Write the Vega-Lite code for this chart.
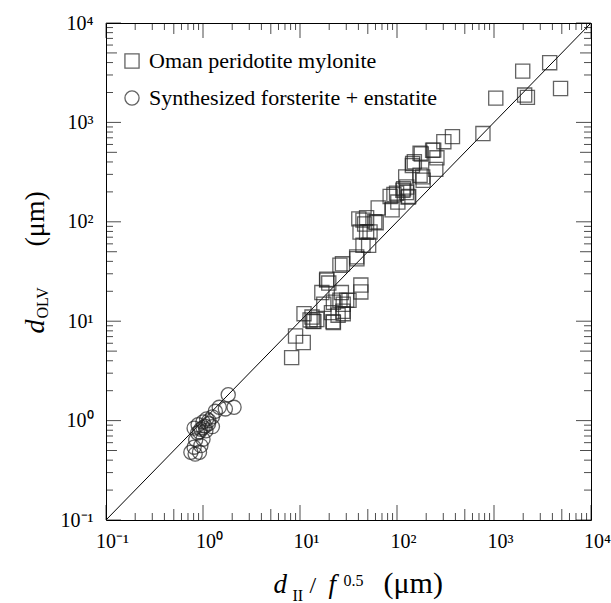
{
  "$schema": "https://vega.github.io/schema/vega-lite/v6.json",
  "width": 485,
  "height": 497,
  "autosize": {"type": "none"},
  "padding": {"left": 106, "top": 23, "right": 20, "bottom": 83},
  "background": "white",
  "config": {
    "view": {"stroke": "#000", "strokeWidth": 1},
    "font": "Liberation Serif",
    "axis": {
      "domain": false,
      "ticks": false,
      "tickSize": 0,
      "grid": false,
      "labelFont": "Liberation Serif",
      "labelFontSize": 20,
      "labelColor": "#000",
      "titleFont": "Liberation Serif",
      "titleColor": "#000",
      "titleFontWeight": "normal",
      "titleAlign": "left",
      "titleBaseline": "alphabetic",
      "titleAnchor": "start"
    }
  },
  "datasets": {
    "diag": [{"x": 0.1, "y": 0.1}, {"x": 10000, "y": 10000}],
    "tmaj": [{"v": 0.1}, {"v": 1}, {"v": 10}, {"v": 100}, {"v": 1000}, {"v": 10000}],
    "tfive": [{"v": 0.5}, {"v": 5}, {"v": 50}, {"v": 500}, {"v": 5000}],
    "tmin": [{"v": 0.2}, {"v": 0.3}, {"v": 0.4}, {"v": 0.6}, {"v": 0.7}, {"v": 0.8}, {"v": 0.9},
      {"v": 2}, {"v": 3}, {"v": 4}, {"v": 6}, {"v": 7}, {"v": 8}, {"v": 9},
      {"v": 20}, {"v": 30}, {"v": 40}, {"v": 60}, {"v": 70}, {"v": 80}, {"v": 90},
      {"v": 200}, {"v": 300}, {"v": 400}, {"v": 600}, {"v": 700}, {"v": 800}, {"v": 900},
      {"v": 2000}, {"v": 3000}, {"v": 4000}, {"v": 6000}, {"v": 7000}, {"v": 8000}, {"v": 9000}],
    "pts": [
      {"g": "Oman peridotite mylonite", "x": 3750, "y": 3990},
      {"g": "Oman peridotite mylonite", "x": 1977, "y": 3280},
      {"g": "Oman peridotite mylonite", "x": 4855, "y": 2193},
      {"g": "Oman peridotite mylonite", "x": 1043, "y": 1754},
      {"g": "Oman peridotite mylonite", "x": 2070, "y": 1884},
      {"g": "Oman peridotite mylonite", "x": 2210, "y": 1786},
      {"g": "Oman peridotite mylonite", "x": 769, "y": 772},
      {"g": "Oman peridotite mylonite", "x": 373, "y": 719},
      {"g": "Oman peridotite mylonite", "x": 304, "y": 640},
      {"g": "Oman peridotite mylonite", "x": 239, "y": 526},
      {"g": "Oman peridotite mylonite", "x": 258, "y": 440},
      {"g": "Oman peridotite mylonite", "x": 251, "y": 337},
      {"g": "Oman peridotite mylonite", "x": 178, "y": 481},
      {"g": "Oman peridotite mylonite", "x": 144, "y": 368},
      {"g": "Oman peridotite mylonite", "x": 151, "y": 402},
      {"g": "Oman peridotite mylonite", "x": 173, "y": 294},
      {"g": "Oman peridotite mylonite", "x": 186, "y": 262},
      {"g": "Oman peridotite mylonite", "x": 123, "y": 282},
      {"g": "Oman peridotite mylonite", "x": 125, "y": 197},
      {"g": "Oman peridotite mylonite", "x": 117, "y": 215},
      {"g": "Oman peridotite mylonite", "x": 132, "y": 180},
      {"g": "Oman peridotite mylonite", "x": 93, "y": 188},
      {"g": "Oman peridotite mylonite", "x": 85, "y": 180},
      {"g": "Oman peridotite mylonite", "x": 102, "y": 158},
      {"g": "Oman peridotite mylonite", "x": 89, "y": 132},
      {"g": "Oman peridotite mylonite", "x": 64, "y": 138},
      {"g": "Oman peridotite mylonite", "x": 48.6, "y": 110},
      {"g": "Oman peridotite mylonite", "x": 61, "y": 98},
      {"g": "Oman peridotite mylonite", "x": 40.4, "y": 107},
      {"g": "Oman peridotite mylonite", "x": 46.4, "y": 95},
      {"g": "Oman peridotite mylonite", "x": 48.6, "y": 78.6},
      {"g": "Oman peridotite mylonite", "x": 51, "y": 58},
      {"g": "Oman peridotite mylonite", "x": 38.6, "y": 42.5},
      {"g": "Oman peridotite mylonite", "x": 27.4, "y": 37.8},
      {"g": "Oman peridotite mylonite", "x": 42.4, "y": 23.1},
      {"g": "Oman peridotite mylonite", "x": 42.4, "y": 19.7},
      {"g": "Oman peridotite mylonite", "x": 26.7, "y": 19.4},
      {"g": "Oman peridotite mylonite", "x": 27.9, "y": 14.8},
      {"g": "Oman peridotite mylonite", "x": 32, "y": 16.2},
      {"g": "Oman peridotite mylonite", "x": 22.1, "y": 15.5},
      {"g": "Oman peridotite mylonite", "x": 18.9, "y": 26.4},
      {"g": "Oman peridotite mylonite", "x": 19.8, "y": 24.2},
      {"g": "Oman peridotite mylonite", "x": 16.8, "y": 19.4},
      {"g": "Oman peridotite mylonite", "x": 17.6, "y": 14.8},
      {"g": "Oman peridotite mylonite", "x": 21.1, "y": 12.2},
      {"g": "Oman peridotite mylonite", "x": 27.9, "y": 11.9},
      {"g": "Oman peridotite mylonite", "x": 22.1, "y": 9.7},
      {"g": "Oman peridotite mylonite", "x": 13.3, "y": 11.0},
      {"g": "Oman peridotite mylonite", "x": 13.9, "y": 9.9},
      {"g": "Oman peridotite mylonite", "x": 14.9, "y": 10.4},
      {"g": "Oman peridotite mylonite", "x": 11.0, "y": 11.9},
      {"g": "Oman peridotite mylonite", "x": 9.0, "y": 7.1},
      {"g": "Oman peridotite mylonite", "x": 10.8, "y": 6.1},
      {"g": "Oman peridotite mylonite", "x": 8.2, "y": 4.3},
      {"g": "Oman peridotite mylonite", "x": 126, "y": 224},
      {"g": "Oman peridotite mylonite", "x": 130, "y": 177},
      {"g": "Oman peridotite mylonite", "x": 115, "y": 208},
      {"g": "Oman peridotite mylonite", "x": 99, "y": 194},
      {"g": "Oman peridotite mylonite", "x": 59, "y": 100},
      {"g": "Oman peridotite mylonite", "x": 44.6, "y": 104},
      {"g": "Oman peridotite mylonite", "x": 52.7, "y": 79},
      {"g": "Oman peridotite mylonite", "x": 41.6, "y": 79},
      {"g": "Oman peridotite mylonite", "x": 44.6, "y": 58},
      {"g": "Oman peridotite mylonite", "x": 184, "y": 283},
      {"g": "Oman peridotite mylonite", "x": 145, "y": 386},
      {"g": "Oman peridotite mylonite", "x": 173, "y": 490},
      {"g": "Oman peridotite mylonite", "x": 233, "y": 525},
      {"g": "Oman peridotite mylonite", "x": 13.6, "y": 10.0},
      {"g": "Oman peridotite mylonite", "x": 12.7, "y": 10.3},
      {"g": "Oman peridotite mylonite", "x": 18.8, "y": 25.9},
      {"g": "Oman peridotite mylonite", "x": 24.7, "y": 11.5},
      {"g": "Oman peridotite mylonite", "x": 21.9, "y": 9.9},
      {"g": "Oman peridotite mylonite", "x": 25.8, "y": 36.6},
      {"g": "Oman peridotite mylonite", "x": 38.4, "y": 44.4},
      {"g": "Oman peridotite mylonite", "x": 25.8, "y": 16.3},
      {"g": "Oman peridotite mylonite", "x": 30.3, "y": 16.3},
      {"g": "Oman peridotite mylonite", "x": 27.7, "y": 12.6},
      {"g": "Synthesized forsterite + enstatite", "x": 1.82, "y": 1.82},
      {"g": "Synthesized forsterite + enstatite", "x": 2.09, "y": 1.36},
      {"g": "Synthesized forsterite + enstatite", "x": 1.70, "y": 1.31},
      {"g": "Synthesized forsterite + enstatite", "x": 1.47, "y": 1.36},
      {"g": "Synthesized forsterite + enstatite", "x": 1.34, "y": 1.24},
      {"g": "Synthesized forsterite + enstatite", "x": 1.25, "y": 1.09},
      {"g": "Synthesized forsterite + enstatite", "x": 1.09, "y": 1.04},
      {"g": "Synthesized forsterite + enstatite", "x": 1.0, "y": 0.97},
      {"g": "Synthesized forsterite + enstatite", "x": 1.14, "y": 0.93},
      {"g": "Synthesized forsterite + enstatite", "x": 0.89, "y": 0.91},
      {"g": "Synthesized forsterite + enstatite", "x": 1.0, "y": 0.85},
      {"g": "Synthesized forsterite + enstatite", "x": 1.25, "y": 0.87},
      {"g": "Synthesized forsterite + enstatite", "x": 0.81, "y": 0.84},
      {"g": "Synthesized forsterite + enstatite", "x": 0.92, "y": 0.77},
      {"g": "Synthesized forsterite + enstatite", "x": 1.07, "y": 0.79},
      {"g": "Synthesized forsterite + enstatite", "x": 1.0, "y": 0.65},
      {"g": "Synthesized forsterite + enstatite", "x": 0.84, "y": 0.64},
      {"g": "Synthesized forsterite + enstatite", "x": 0.95, "y": 0.56},
      {"g": "Synthesized forsterite + enstatite", "x": 0.81, "y": 0.54},
      {"g": "Synthesized forsterite + enstatite", "x": 0.75, "y": 0.48},
      {"g": "Synthesized forsterite + enstatite", "x": 0.83, "y": 0.46},
      {"g": "Synthesized forsterite + enstatite", "x": 0.92, "y": 0.48},
      {"g": "Synthesized forsterite + enstatite", "x": 1.05, "y": 0.88},
      {"g": "Synthesized forsterite + enstatite", "x": 0.95, "y": 0.82},
      {"g": "Synthesized forsterite + enstatite", "x": 1.15, "y": 1.0},
      {"g": "Synthesized forsterite + enstatite", "x": 0.88, "y": 0.75}
    ]
  },
  "layer": [
    {
      "data": {"name": "diag"},
      "mark": {"type": "line", "color": "#000", "strokeWidth": 1, "clip": true},
      "encoding": {
        "x": {"field": "x", "type": "quantitative",
          "scale": {"type": "log", "domain": [0.1, 10000], "nice": false},
          "axis": {"orient": "bottom", "values": [0.1, 1, 10, 100, 1000, 10000],
            "labelPadding": 11, "labelBaseline": "top", "labelAlign": "center", "labelOffset": 6,
            "labelFlush": false, "labelOverlap": false,
            "labelExpr": "datum.value < 0.5 ? '10⁻¹' : datum.value < 5 ? '10⁰' : datum.value < 50 ? '10¹' : datum.value < 500 ? '10²' : datum.value < 5000 ? '10³' : '10⁴'",
            "title": "d", "titleFontStyle": "italic", "titleFontSize": 27, "titleX": 167, "titleY": 72}},
        "y": {"field": "y", "type": "quantitative",
          "scale": {"type": "log", "domain": [0.1, 10000], "nice": false},
          "axis": {"orient": "left", "values": [0.1, 1, 10, 100, 1000, 10000],
            "labelPadding": 13, "labelBaseline": "middle", "labelAlign": "right",
            "labelFlush": false, "labelOverlap": false,
            "labelExpr": "datum.value < 0.5 ? '10⁻¹' : datum.value < 5 ? '10⁰' : datum.value < 50 ? '10¹' : datum.value < 500 ? '10²' : datum.value < 5000 ? '10³' : '10⁴'",
            "title": "d", "titleFontStyle": "italic", "titleFontSize": 28, "titleAngle": -90, "titleX": -63, "titleY": 310}}
      }
    },
    {
      "data": {"name": "pts"},
      "mark": {"type": "point", "filled": false, "size": 200, "strokeWidth": 1.3, "color": "#222", "clip": true},
      "encoding": {
        "x": {"field": "x", "type": "quantitative",
          "scale": {"type": "log", "domain": [0.1, 10000], "nice": false},
          "axis": {"orient": "bottom", "values": [1], "labels": false,
            "title": "II", "titleFontSize": 16, "titleX": 186, "titleY": 80}},
        "y": {"field": "y", "type": "quantitative",
          "scale": {"type": "log", "domain": [0.1, 10000], "nice": false},
          "axis": {"orient": "left", "values": [1], "labels": false,
            "title": "OLV", "titleFontSize": 16, "titleAngle": -90, "titleX": -59, "titleY": 295}},
        "shape": {"field": "g", "type": "nominal",
          "scale": {"domain": ["Oman peridotite mylonite", "Synthesized forsterite + enstatite"], "range": ["square", "circle"]},
          "legend": {"orient": "none", "legendX": 15, "legendY": 27, "title": null, "padding": 0,
            "symbolSize": 200, "symbolStrokeWidth": 1.3, "symbolStrokeColor": "#222", "symbolFillColor": "transparent",
            "labelFont": "Liberation Serif", "labelFontSize": 22, "labelColor": "#000", "labelOffset": 6, "labelLimit": 0, "rowPadding": 15}}
      }
    },
    {
      "data": {"name": "tmaj"},
      "mark": {"type": "tick", "orient": "vertical", "size": 15, "thickness": 1, "color": "#000"},
      "encoding": {
        "x": {"field": "v", "type": "quantitative", "scale": {"type": "log", "domain": [0.1, 10000], "nice": false},
          "axis": {"orient": "bottom", "values": [1], "labels": false, "title": "/", "titleFontSize": 24, "titleX": 203, "titleY": 72}},
        "y": {"datum": 0.119, "type": "quantitative", "scale": {"type": "log", "domain": [0.1, 10000], "nice": false}, "axis": null}
      }
    },
    {
      "data": {"name": "tmaj"},
      "mark": {"type": "tick", "orient": "vertical", "size": 15, "thickness": 1, "color": "#000"},
      "encoding": {
        "x": {"field": "v", "type": "quantitative", "scale": {"type": "log", "domain": [0.1, 10000], "nice": false},
          "axis": {"orient": "top", "values": [1], "labels": false, "title": "f", "titleFontStyle": "italic", "titleFontSize": 27, "titleX": 222, "titleY": 569}},
        "y": {"datum": 8406, "type": "quantitative", "scale": {"type": "log", "domain": [0.1, 10000], "nice": false}, "axis": null}
      }
    },
    {
      "data": {"name": "tfive"},
      "mark": {"type": "tick", "orient": "vertical", "size": 11, "thickness": 1, "color": "#000"},
      "encoding": {
        "x": {"field": "v", "type": "quantitative", "scale": {"type": "log", "domain": [0.1, 10000], "nice": false},
          "axis": {"orient": "top", "values": [1], "labels": false, "title": "0.5", "titleFontSize": 16, "titleX": 237, "titleY": 562}},
        "y": {"datum": 0.1136, "type": "quantitative", "scale": {"type": "log", "domain": [0.1, 10000], "nice": false}, "axis": null}
      }
    },
    {
      "data": {"name": "tfive"},
      "mark": {"type": "tick", "orient": "vertical", "size": 11, "thickness": 1, "color": "#000"},
      "encoding": {
        "x": {"field": "v", "type": "quantitative", "scale": {"type": "log", "domain": [0.1, 10000], "nice": false},
          "axis": {"orient": "top", "values": [1], "labels": false, "title": "(μm)", "titleFontSize": 30, "titleX": 277, "titleY": 569}},
        "y": {"datum": 8803, "type": "quantitative", "scale": {"type": "log", "domain": [0.1, 10000], "nice": false}, "axis": null}
      }
    },
    {
      "data": {"name": "tmin"},
      "mark": {"type": "tick", "orient": "vertical", "size": 7, "thickness": 1, "color": "#000"},
      "encoding": {
        "x": {"field": "v", "type": "quantitative", "scale": {"type": "log", "domain": [0.1, 10000], "nice": false}, "axis": null},
        "y": {"datum": 0.1084, "type": "quantitative", "scale": {"type": "log", "domain": [0.1, 10000], "nice": false}, "axis": null}
      }
    },
    {
      "data": {"name": "tmin"},
      "mark": {"type": "tick", "orient": "vertical", "size": 7, "thickness": 1, "color": "#000"},
      "encoding": {
        "x": {"field": "v", "type": "quantitative", "scale": {"type": "log", "domain": [0.1, 10000], "nice": false}, "axis": null},
        "y": {"datum": 9222, "type": "quantitative", "scale": {"type": "log", "domain": [0.1, 10000], "nice": false}, "axis": null}
      }
    },
    {
      "data": {"name": "tmaj"},
      "mark": {"type": "tick", "orient": "horizontal", "size": 15, "thickness": 1, "color": "#000"},
      "encoding": {
        "y": {"field": "v", "type": "quantitative", "scale": {"type": "log", "domain": [0.1, 10000], "nice": false},
          "axis": {"orient": "left", "values": [1], "labels": false, "title": "(μm)", "titleFontSize": 28, "titleAngle": -90, "titleX": -63, "titleY": 223}},
        "x": {"datum": 0.1195, "type": "quantitative", "scale": {"type": "log", "domain": [0.1, 10000], "nice": false}, "axis": null}
      }
    },
    {
      "data": {"name": "tmaj"},
      "mark": {"type": "tick", "orient": "horizontal", "size": 15, "thickness": 1, "color": "#000"},
      "encoding": {
        "y": {"field": "v", "type": "quantitative", "scale": {"type": "log", "domain": [0.1, 10000], "nice": false}, "axis": null},
        "x": {"datum": 8369, "type": "quantitative", "scale": {"type": "log", "domain": [0.1, 10000], "nice": false}, "axis": null}
      }
    },
    {
      "data": {"name": "tfive"},
      "mark": {"type": "tick", "orient": "horizontal", "size": 11, "thickness": 1, "color": "#000"},
      "encoding": {
        "y": {"field": "v", "type": "quantitative", "scale": {"type": "log", "domain": [0.1, 10000], "nice": false}, "axis": null},
        "x": {"datum": 0.1139, "type": "quantitative", "scale": {"type": "log", "domain": [0.1, 10000], "nice": false}, "axis": null}
      }
    },
    {
      "data": {"name": "tfive"},
      "mark": {"type": "tick", "orient": "horizontal", "size": 11, "thickness": 1, "color": "#000"},
      "encoding": {
        "y": {"field": "v", "type": "quantitative", "scale": {"type": "log", "domain": [0.1, 10000], "nice": false}, "axis": null},
        "x": {"datum": 8775, "type": "quantitative", "scale": {"type": "log", "domain": [0.1, 10000], "nice": false}, "axis": null}
      }
    },
    {
      "data": {"name": "tmin"},
      "mark": {"type": "tick", "orient": "horizontal", "size": 7, "thickness": 1, "color": "#000"},
      "encoding": {
        "y": {"field": "v", "type": "quantitative", "scale": {"type": "log", "domain": [0.1, 10000], "nice": false}, "axis": null},
        "x": {"datum": 0.1087, "type": "quantitative", "scale": {"type": "log", "domain": [0.1, 10000], "nice": false}, "axis": null}
      }
    },
    {
      "data": {"name": "tmin"},
      "mark": {"type": "tick", "orient": "horizontal", "size": 7, "thickness": 1, "color": "#000"},
      "encoding": {
        "y": {"field": "v", "type": "quantitative", "scale": {"type": "log", "domain": [0.1, 10000], "nice": false}, "axis": null},
        "x": {"datum": 9203, "type": "quantitative", "scale": {"type": "log", "domain": [0.1, 10000], "nice": false}, "axis": null}
      }
    }
  ],
  "resolve": {"axis": {"x": "independent", "y": "independent"}}
}
